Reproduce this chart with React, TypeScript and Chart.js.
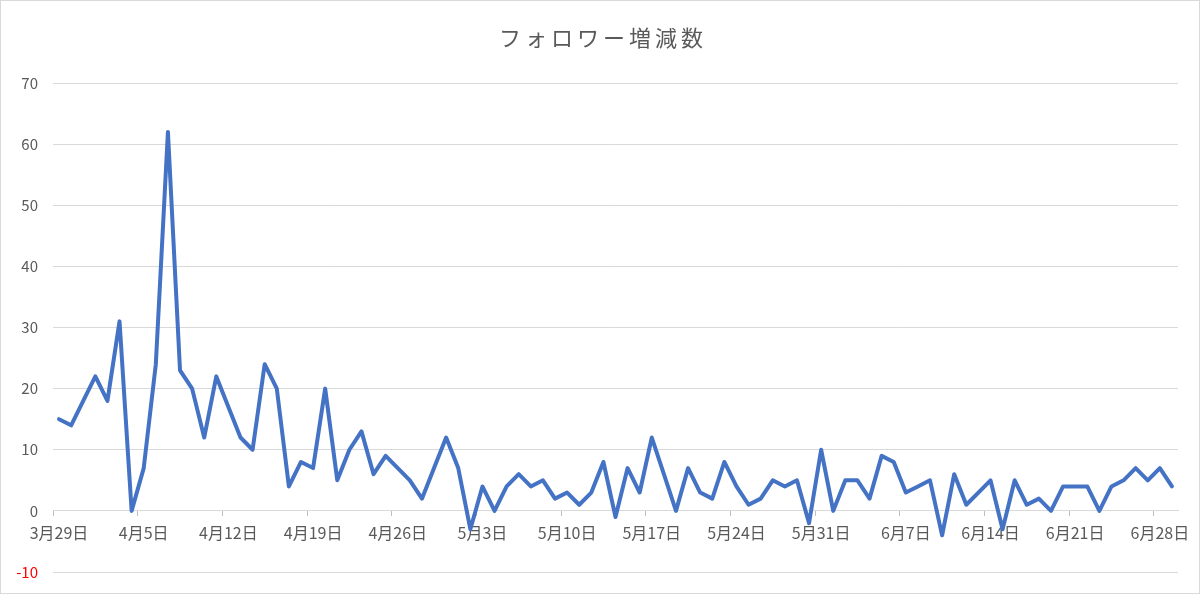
import { useEffect, useRef } from "react"
import { Chart, registerables } from "chart.js"

Chart.register(...registerables)

const chartTitle = "フォロワー増減数"

// 3/29 から 6/29 までの日付
const startMonth = 3
const startDay = 29
const dayCount = 93
const monthLength: Record<number, number> = { 3: 31, 4: 30, 5: 31, 6: 30 }

function buildDates() {
  const out: string[] = []
  let m = startMonth
  let d = startDay
  for (let i = 0; i < dayCount; i++) {
    out.push(`${m}月${d}日`)
    d++
    if (d > monthLength[m]) {
      d = 1
      m++
    }
  }
  return out
}

const dates = buildDates()

// 1日ごとのフォロワー増減
const changes = [
  15, 14, 18, 22, 18, 31, 0, 7, 24, 62,
  23, 20, 12, 22, 17, 12, 10, 24, 20, 4,
  8, 7, 20, 5, 10, 13, 6, 9, 7, 5,
  2, 7, 12, 7, -3, 4, 0, 4, 6, 4,
  5, 2, 3, 1, 3, 8, -1, 7, 3, 12,
  6, 0, 7, 3, 2, 8, 4, 1, 2, 5,
  4, 5, -2, 10, 0, 5, 5, 2, 9, 8,
  3, 4, 5, -4, 6, 1, 3, 5, -3, 5,
  1, 2, 0, 4, 4, 4, 0, 4, 5, 7,
  5, 7, 4,
]

const yMin = -10
const yMax = 70
const yStep = 10
const labelEvery = 7

const textColor = "#595959"
const gridColor = "#d9d9d9"
const lineColor = "#4472c4"
const fontFamily = '"Noto Sans CJK JP", "Noto Sans", sans-serif'

const spacedTitle = {
  id: "spacedTitle",
  afterDraw(chart: Chart) {
    const { ctx, width } = chart
    ctx.save()
    ctx.font = `22px ${fontFamily}`
    ctx.fillStyle = textColor
    ctx.textAlign = "center"
    ctx.textBaseline = "middle"
    ;(ctx as any).letterSpacing = "4px"
    ctx.fillText(chartTitle, width / 2 + 3, 37)
    ctx.restore()
  },
}

export default function App() {
  const chartRef = useRef<HTMLCanvasElement>(null)
  const chartInstance = useRef<Chart | null>(null)

  useEffect(() => {
    if (!chartRef.current) return

    if (chartInstance.current) {
      chartInstance.current.destroy()
    }

    const ctx = chartRef.current.getContext("2d")
    if (!ctx) return

    chartInstance.current = new Chart(ctx, {
      type: "line",
      data: {
        labels: dates,
        datasets: [
          {
            label: chartTitle,
            data: changes,
            borderColor: lineColor,
            backgroundColor: lineColor,
            borderWidth: 4,
            borderJoinStyle: "round",
            borderCapStyle: "round",
            pointRadius: 0,
            tension: 0,
          },
        ],
      },
      plugins: [spacedTitle],
      options: {
        animation: false,
        responsive: true,
        maintainAspectRatio: false,
        layout: {
          padding: { top: 82, right: 21, bottom: 21, left: 0 },
        },
        plugins: {
          legend: { display: false },
          title: { display: false },
          tooltip: { enabled: false },
        },
        scales: {
          x: {
            type: "category",
            position: { y: 0 },
            offset: true,
            grid: {
              offset: true,
              drawOnChartArea: false,
              drawTicks: true,
              tickLength: 5,
              color: (c: any) =>
                c.index !== undefined && c.index % labelEvery === 0 ? "#bfbfbf" : "rgba(0,0,0,0)",
            },
            border: { display: true, color: gridColor },
            ticks: {
              autoSkip: false,
              maxRotation: 0,
              minRotation: 0,
              padding: 7,
              color: textColor,
              font: { family: fontFamily, size: 16 },
              callback: (_v: any, i: number) => (i % labelEvery === 0 ? dates[i] : ""),
            },
          },
          y: {
            min: yMin,
            max: yMax,
            // 目盛り線は透明にして、ラベルとの間隔だけ取る
            grid: { color: gridColor, drawTicks: true, tickLength: 15, tickColor: "rgba(0,0,0,0)" },
            border: { display: false },
            afterFit: (scale: any) => {
              scale.width = 52
            },
            ticks: {
              stepSize: yStep,
              padding: 0,
              color: (c: any) => (c.tick && c.tick.value < 0 ? "#ff0000" : textColor),
              font: { family: fontFamily, size: 15 },
            },
          },
        },
      },
    })

    return () => {
      if (chartInstance.current) {
        chartInstance.current.destroy()
        chartInstance.current = null
      }
    }
  }, [])

  return (
    <div
      style={{
        position: "absolute",
        left: 0,
        top: 0,
        width: 1200,
        height: 594,
        boxSizing: "border-box",
        border: "1px solid #d9d9d9",
        background: "#fff",
      }}
    >
      <div style={{ position: "relative", width: 1198, height: 592 }}>
        <canvas ref={chartRef} />
      </div>
    </div>
  )
}
